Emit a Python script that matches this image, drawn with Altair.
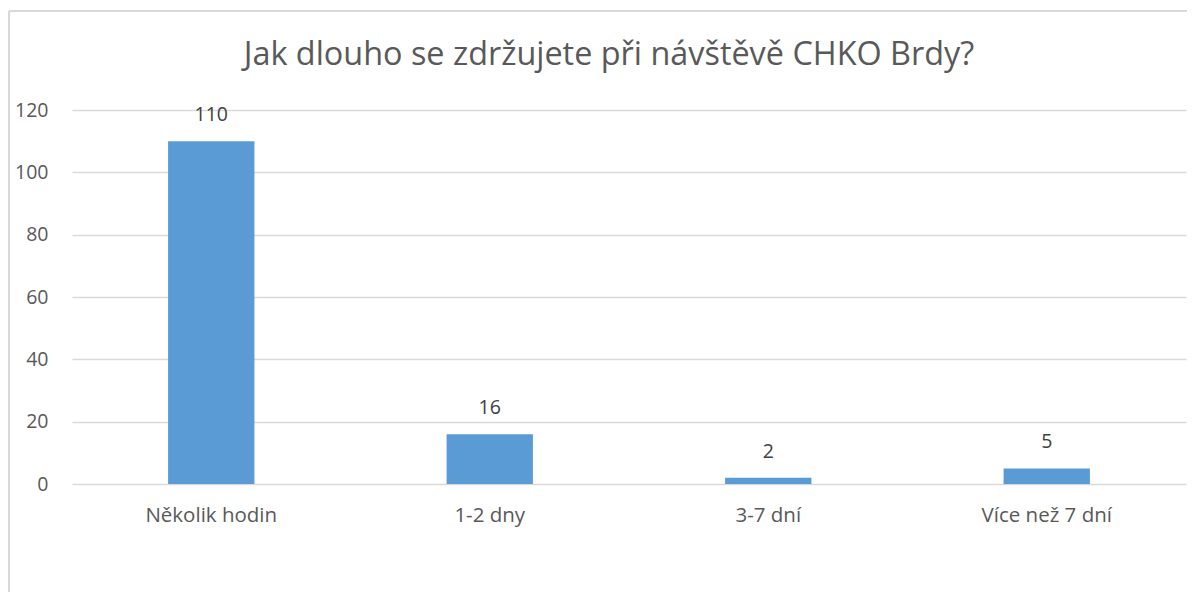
import altair as alt
import pandas as pd

categories = ["Několik hodin", "1-2 dny", "3-7 dní", "Více než 7 dní"]
values = [110, 16, 2, 5]
y_ticks = [0, 20, 40, 60, 80, 100, 120]
title_text = "Jak dlouho se zdržujete při návštěvě CHKO Brdy?"

df = pd.DataFrame({"kategorie": categories, "pocet": values})

FONT = "Open Sans"

x_enc = alt.X("kategorie:N", sort=categories,
              scale=alt.Scale(paddingInner=0.69, paddingOuter=0.345),
              axis=alt.Axis(title=None, labelAngle=0, labelFontSize=20.5, labelColor="#595959",
                            labelFont=FONT, labelPadding=21, domain=False, ticks=False))
y_enc = alt.Y("pocet:Q", scale=alt.Scale(domain=[0, 120], nice=False),
              axis=alt.Axis(title=None, values=y_ticks, labelFontSize=19.5, labelColor="#595959",
                            labelFont=FONT, labelPadding=24, domain=False, ticks=False,
                            grid=True, gridColor="#d9d9d9", gridWidth=1.5))

bars = alt.Chart(df).mark_bar(color="#5B9BD5").encode(x=x_enc, y=y_enc)

labels = alt.Chart(df).mark_text(baseline="bottom", dy=-16, fontSize=19.5, font=FONT,
                                 color="#404040").encode(
    x=alt.X("kategorie:N", sort=categories),
    y=alt.Y("pocet:Q"),
    text=alt.Text("pocet:Q"))

title_df = pd.DataFrame({"t": [title_text]})
title_mark = alt.Chart(title_df).mark_text(
    font=FONT, fontSize=32.4, color="#595959", baseline="alphabetic", align="center").encode(
    x=alt.value(537), y=alt.value(-45), text="t:N")

frame_left = alt.Chart(df).mark_rule(color="#d9d9d9", strokeWidth=1.5).encode(
    x=alt.value(-63), y=alt.value(-99), y2=alt.value(600))
frame_top = alt.Chart(df).mark_rule(color="#d9d9d9", strokeWidth=1.5).encode(
    x=alt.value(-63), x2=alt.value(1115), y=alt.value(-99))

chart = alt.layer(frame_left, frame_top, bars, labels, title_mark).properties(
    width=1114, height=374,
    padding={"left": 64, "top": 102, "right": 2, "bottom": 108},
    autosize=alt.AutoSizeParams(type="none"),
).configure_view(stroke=None)

chart.save("out.html", embed_options={"renderer": "svg", "actions": False})
